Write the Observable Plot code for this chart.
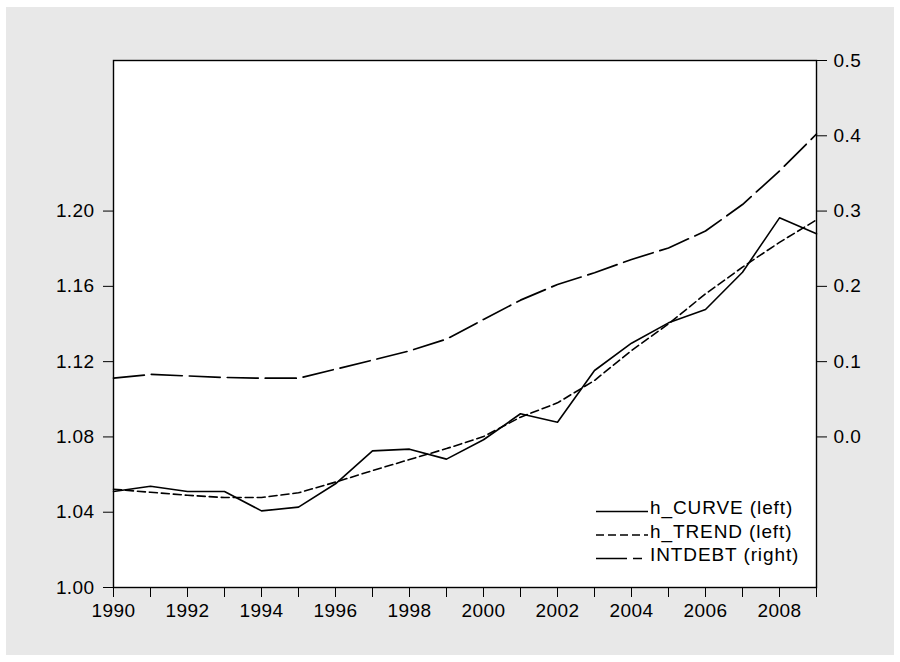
<!DOCTYPE html>
<html>
<head>
<meta charset="utf-8">
<script src="https://cdn.jsdelivr.net/npm/d3@7"></script>
<script src="https://cdn.jsdelivr.net/npm/@observablehq/plot@0.6"></script>
<style>
  html, body { margin: 0; padding: 0; background: #ffffff; }
  #wrap { position: relative; width: 900px; height: 662px; overflow: hidden; }
  #bg { position: absolute; left: 6px; top: 7px; width: 888px; height: 648px; background: #e8e8e8; }
  #chart { position: absolute; left: 0; top: 0; }
  #legend { position: absolute; left: 590px; top: 490px; }
</style>
</head>
<body>
<div id="wrap">
  <div id="bg"></div>
  <div id="chart"></div>
  <div id="legend"></div>
</div>
<script>
// ---- data ----
const years = [1990,1991,1992,1993,1994,1995,1996,1997,1998,1999,2000,2001,2002,2003,2004,2005,2006,2007,2008,2009];
const hCurve = [1.051,1.0538,1.051,1.051,1.0407,1.0427,1.0551,1.0726,1.0735,1.0682,1.0785,1.0923,1.0878,1.1153,1.1298,1.1406,1.1477,1.1675,1.1964,1.1879];
const hTrend = [1.0522,1.0506,1.049,1.0478,1.0478,1.0503,1.056,1.0621,1.068,1.0738,1.0802,1.0905,1.0981,1.110,1.1259,1.1401,1.156,1.1702,1.1834,1.1953];
const intdebt = [0.078,0.083,0.081,0.079,0.078,0.078,0.090,0.102,0.1143,0.130,0.156,0.1817,0.2025,0.218,0.2357,0.251,0.2735,0.3087,0.3532,0.4024];

const leftTicks = [1.00,1.04,1.08,1.12,1.16,1.20];
const rightTicks = [0.0,0.1,0.2,0.3,0.4,0.5];
const xLabelYears = [1990,1992,1994,1996,1998,2000,2002,2004,2006,2008];

const leftDomain = [1.00, 1.28];
const rightDomain = [-0.2, 0.5];
// map right-axis values onto the left scale
const r2l = v => leftDomain[0] + (v - rightDomain[0]) * (leftDomain[1]-leftDomain[0]) / (rightDomain[1]-rightDomain[0]);
const l2r = v => rightDomain[0] + (v - leftDomain[0]) * (rightDomain[1]-rightDomain[0]) / (leftDomain[1]-leftDomain[0]);

const curveData = years.map((y,i) => ({year: y, v: hCurve[i]}));
const trendData = years.map((y,i) => ({year: y, v: hTrend[i]}));
const debtData  = years.map((y,i) => ({year: y, v: r2l(intdebt[i])}));

const font = "'Liberation Sans', Arial, Helvetica, sans-serif";

const chart = Plot.plot({
  width: 900,
  height: 662,
  marginLeft: 113,
  marginRight: 84,
  marginTop: 60,
  marginBottom: 75,
  style: {background: "transparent", fontFamily: font, fontSize: "19px", color: "#000", overflow: "visible", letterSpacing: "0.4px"},
  x: {domain: [1990, 2009]},
  y: {domain: leftDomain},
  marks: [
    Plot.frame({fill: "white", stroke: "none"}),
    Plot.axisY({anchor: "left", ticks: leftTicks, tickSize: 10, tickPadding: 9, tickFormat: d => d.toFixed(2), label: null, fontSize: 19}),
    Plot.axisY({anchor: "right", ticks: rightTicks.map(r2l), tickSize: 10, tickPadding: 7,
      tickFormat: d => (Math.round(l2r(d)*10)/10).toFixed(1), label: null, fontSize: 19}),
    Plot.axisX({anchor: "bottom", ticks: years, tickSize: 10, tickPadding: 6,
      tickFormat: d => xLabelYears.includes(d) ? String(d) : "", label: null, fontSize: 19}),
    Plot.line(debtData, {x: "year", y: "v", stroke: "black", strokeWidth: 1.7, strokeDasharray: "31,7"}),
    Plot.line(trendData, {x: "year", y: "v", stroke: "black", strokeWidth: 1.6, strokeDasharray: "8,4"}),
    Plot.line(curveData, {x: "year", y: "v", stroke: "black", strokeWidth: 1.6}),
    Plot.frame({stroke: "black", strokeWidth: 1.4})
  ]
});
document.getElementById("chart").appendChild(chart);

// ---- legend ----
const legendItems = [
  {label: "h_CURVE (left)", dash: null},
  {label: "h_TREND (left)", dash: "8,4"},
  {label: "INTDEBT (right)", dash: "31,6"}
];
const lg = d3.select("#legend").append("svg").attr("width", 240).attr("height", 80)
  .style("font-family", font).style("font-size", "19px").style("letter-spacing", "0.9px");
legendItems.forEach((it, i) => {
  const yb = 24 + i * 23.5;
  const ln = lg.append("line").attr("x1", 6).attr("x2", it.dash === "31,6" ? 52 : 58)
    .attr("y1", yb - 2.5).attr("y2", yb - 2.5).attr("stroke", "black").attr("stroke-width", 1.6);
  if (it.dash) ln.attr("stroke-dasharray", it.dash);
  lg.append("text").attr("x", 60).attr("y", yb).attr("fill", "black").text(it.label);
});
</script>
</body>
</html>
